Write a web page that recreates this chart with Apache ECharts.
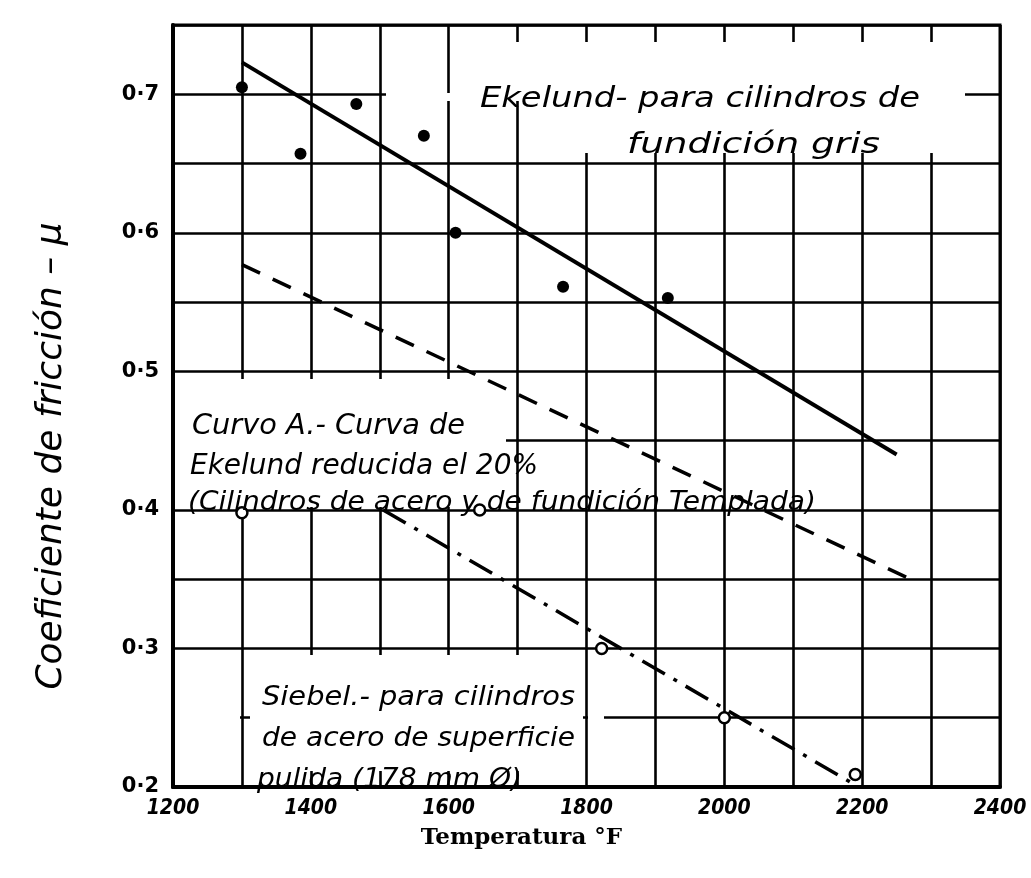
<!DOCTYPE html>
<html>
<head>
<meta charset="utf-8">
<script src="https://cdn.jsdelivr.net/npm/echarts@6/dist/echarts.min.js"></script>
<style>
html,body{margin:0;padding:0;background:#fff;}
#c{width:1031px;height:878px;}
</style>
</head>
<body>
<div id="c"></div>
<script>
// ---- data ----
const xTickLabels = [1200, 1400, 1600, 1800, 2000, 2200, 2400];
const yTickLabels = ['0·2', '0·3', '0·4', '0·5', '0·6', '0·7'];

const ekelundTemp = [1300, 1385, 1466, 1564, 1610, 1766, 1918];
const ekelundMu   = [0.705, 0.657, 0.693, 0.670, 0.600, 0.561, 0.553];

const ekelundLineTemp = [1300, 2250];
const ekelundLineMu   = [0.723, 0.440];

const curveATemp = [1300, 2270];
const curveAMu   = [0.577, 0.350];

const siebelTemp = [1300, 1645, 1822, 2000, 2190];
const siebelMu   = [0.398, 0.400, 0.300, 0.250, 0.209];

const siebelLineTemp = [1505, 2195];
const siebelLineMu   = [0.400, 0.200];

const pairs = (xs, ys) => xs.map((x, i) => [x, ys[i]]);

const chart = echarts.init(document.getElementById('c'), null, {renderer: 'canvas'});

const handFont = '"DejaVu Sans"';
const measureCtx = document.createElement('canvas').getContext('2d');
const txt = (text, x, y, size, width) => {
  const font = 'italic ' + size + 'px ' + handFont;
  measureCtx.font = font;
  const w = measureCtx.measureText(text).width;
  return {
    type: 'text', zlevel: 1, z: 100, x: x, y: y, scaleX: width / w, scaleY: 1,
    style: {text: text, font: font, fill: '#000', textVerticalAlign: 'alphabetic', textAlign: 'left'}
  };
};
const mask = (x1, y1, x2, y2) => ({
  type: 'rect', zlevel: 1, z: 1, shape: {x: x1, y: y1, width: x2 - x1, height: y2 - y1},
  style: {fill: '#fff'}, silent: true
});

const option = {
  backgroundColor: '#fff',
  animation: false,
  grid: {left: 173, right: 31, top: 25, bottom: 91, show: true, borderColor: '#000', borderWidth: 3},
  xAxis: {
    type: 'value', min: 1200, max: 2400, interval: 100,
    axisLine: {show: true, lineStyle: {color: '#000', width: 4}},
    axisTick: {show: false},
    splitLine: {show: true, lineStyle: {color: '#000', width: 2.6}},
    axisLabel: {
      margin: 11, color: '#000', fontFamily: '"DejaVu Sans Condensed"', fontWeight: 'bold', fontStyle: 'italic', fontSize: 21,
      formatter: v => xTickLabels.includes(v) ? String(v) : ''
    },
    name: 'Temperatura °F', nameLocation: 'middle', nameGap: 40,
    nameTextStyle: {color: '#000', fontFamily: '"DejaVu Serif"', fontWeight: 'bold', fontSize: 23, padding: [0, 130, 0, 0]}
  },
  yAxis: {
    type: 'value', min: 0.2, max: 0.75, interval: 0.05,
    axisLine: {show: true, lineStyle: {color: '#000', width: 4}},
    axisTick: {show: false},
    splitLine: {show: true, lineStyle: {color: '#000', width: 2.6}},
    axisLabel: {
      margin: 14, color: '#000', fontFamily: '"DejaVu Sans"', fontWeight: 'bold', fontSize: 21,
      formatter: v => {
        const k = Math.round(v * 100);
        if (k % 10 !== 0) return '';
        const idx = (k - 20) / 10;
        return yTickLabels[idx] || '';
      }
    },
    name: 'Coeficiente de fricción – μ', nameLocation: 'middle', nameRotate: 90, nameGap: 103,
    nameTextStyle: {color: '#000', fontFamily: handFont, fontStyle: 'italic', fontSize: 36, padding: [0, 100, 0, 0]}
  },
  series: [
    {
      name: 'Ekelund', type: 'line', data: pairs(ekelundLineTemp, ekelundLineMu),
      symbol: 'none', lineStyle: {color: '#000', width: 4}, zlevel: 1, z: 10
    },
    {
      name: 'Ekelund puntos', type: 'scatter', data: pairs(ekelundTemp, ekelundMu),
      symbol: 'circle', symbolSize: 12, itemStyle: {color: '#000', opacity: 1}, zlevel: 1, z: 11
    },
    {
      name: 'Curva A', type: 'line', data: pairs(curveATemp, curveAMu),
      symbol: 'none', lineStyle: {color: '#000', width: 3.5, type: [20, 14]}, zlevel: 1, z: 10
    },
    {
      name: 'Siebel', type: 'line', data: pairs(siebelLineTemp, siebelLineMu),
      symbol: 'none', lineStyle: {color: '#000', width: 3.5, type: [26, 10, 4, 10]}, zlevel: 1, z: 10
    },
    {
      name: 'Siebel puntos', type: 'scatter', data: pairs(siebelTemp, siebelMu),
      symbol: 'circle', symbolSize: 11, itemStyle: {color: '#fff', borderColor: '#000', borderWidth: 2.5, opacity: 1}, zlevel: 1, z: 11
    }
  ],
  graphic: {
    elements: [
      mask(455, 42, 990, 92),
      mask(525, 92, 965, 153),
      mask(386, 93, 525, 101),
      mask(175, 379, 506, 507),
      mask(250, 655, 583, 771),
      mask(175, 715, 240, 723),
      mask(588, 715, 604, 723),
      txt('Ekelund- para cilindros de', 480, 85, 29, 440),
      txt('fundición gris', 627, 131, 29, 253),
      txt('Curvo A.- Curva de', 192, 413, 28, 273),
      txt('Ekelund reducida el 20%', 190, 453, 28, 348),
      txt('(Cilindros de acero y de fundición Templada)', 188, 490, 26, 628),
      txt('Siebel.- para cilindros', 262, 685, 26, 313),
      txt('de acero de superficie', 262, 726, 26, 313),
      txt('pulida (178 mm Ø)', 257, 767, 26, 265)
    ]
  }
};
chart.setOption(option);
</script>
</body>
</html>
